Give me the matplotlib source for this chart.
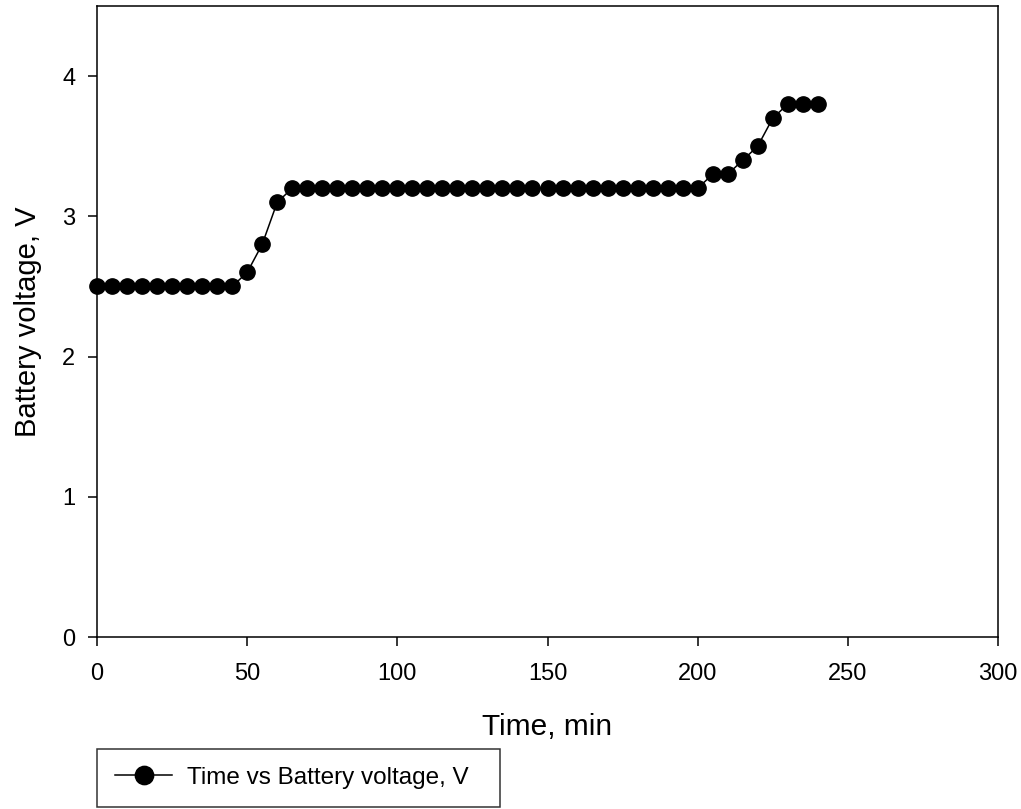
import matplotlib
matplotlib.use("Agg")
import matplotlib.pyplot as plt

plt.rcParams['font.family'] = ['Liberation Sans', 'DejaVu Sans']

# time in minutes, battery voltage in V
time_min = [0, 5, 10, 15, 20, 25, 30, 35, 40, 45,
            50, 55, 60, 65, 70, 75, 80, 85, 90, 95,
            100, 105, 110, 115, 120, 125, 130, 135, 140, 145,
            150, 155, 160, 165, 170, 175, 180, 185, 190, 195,
            200, 205, 210, 215, 220, 225, 230, 235, 240]
voltage = [2.5, 2.5, 2.5, 2.5, 2.5, 2.5, 2.5, 2.5, 2.5, 2.5,
           2.6, 2.8, 3.1, 3.2, 3.2, 3.2, 3.2, 3.2, 3.2, 3.2,
           3.2, 3.2, 3.2, 3.2, 3.2, 3.2, 3.2, 3.2, 3.2, 3.2,
           3.2, 3.2, 3.2, 3.2, 3.2, 3.2, 3.2, 3.2, 3.2, 3.2,
           3.2, 3.3, 3.3, 3.4, 3.5, 3.7, 3.8, 3.8, 3.8]
x_ticks = [0, 50, 100, 150, 200, 250, 300]
y_ticks = [0, 1, 2, 3, 4]

fig = plt.figure(figsize=(10.21, 8.09), dpi=100)
ax = fig.add_axes([97 / 1021, 1 - 637 / 809, (998 - 97) / 1021, (637 - 6) / 809])

ax.plot(time_min, voltage, color='black', linewidth=1.1, marker='o',
        markersize=11, markerfacecolor='black', markeredgecolor='black',
        label='Time vs Battery voltage, V', clip_on=False)

ax.set_xlim(0, 300)
ax.set_ylim(0, 4.5)
ax.set_xticks(x_ticks)
ax.set_yticks(y_ticks)
ax.tick_params(direction='out', length=6.5, width=1.1, labelsize=17)
ax.tick_params(axis='x', pad=12)
ax.tick_params(axis='y', pad=9)
for s in ax.spines.values():
    s.set_linewidth(1.1)

ax.set_xlabel('Time, min', fontsize=21.5, labelpad=20.5)
ax.set_ylabel('Battery voltage, V', fontsize=21, labelpad=15)

# legend box below the axes, left edge aligned with the y axis
leg = fig.legend(loc='upper left',
                 bbox_to_anchor=(97 / 1021, 0, (500 - 97) / 1021, 1 - 749 / 809),
                 mode='expand', fontsize=17.5, frameon=True, fancybox=False,
                 borderpad=0.74, handlelength=2.35, handletextpad=0.62,
                 borderaxespad=0, markerscale=1.2)
leg.get_frame().set_edgecolor('black')
leg.get_frame().set_linewidth(1.1)

fig.savefig('out.png', dpi=100)
